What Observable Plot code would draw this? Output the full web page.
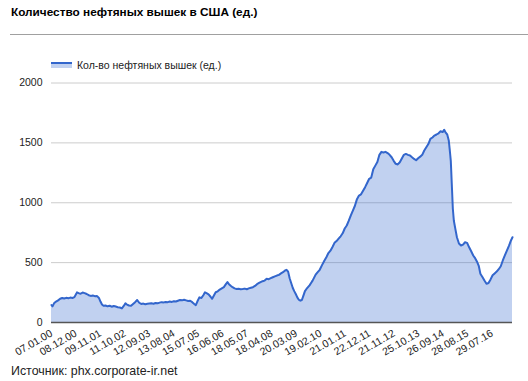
<!DOCTYPE html>
<html><head><meta charset="utf-8">
<script src="https://cdn.jsdelivr.net/npm/d3@7"></script>
<script src="https://cdn.jsdelivr.net/npm/@observablehq/plot@0.6"></script>
<style>
body{margin:0;background:#fff;font-family:Arial,"Liberation Sans",sans-serif;}
#wrap{position:relative;width:528px;height:381px;overflow:hidden;background:#fff}
#title{position:absolute;left:11px;top:5px;font-weight:bold;font-size:11.8px;color:#000;white-space:nowrap}
#rule{position:absolute;left:10px;right:0;top:34px;height:0;border-top:1px solid #a0a0a0}
#chart{position:absolute;left:0;top:40px}
#legend{position:absolute;left:51px;top:59px;font-size:10.5px;color:#222;display:flex;align-items:center;white-space:nowrap}
.sw{width:21px;height:4px;background:rgba(51,102,204,0.3);border-top:2px solid #3366cc;margin-right:5px}
#caption{position:absolute;left:11px;top:364px;font-size:12.4px;color:#222;white-space:nowrap}
</style>
</head><body>
<div id="wrap">
  <div id="title">Количество нефтяных вышек в США (ед.)</div>
  <div id="rule"></div>
  <div id="legend"><span class="sw"></span><span>Кол-во нефтяных вышек (ед.)</span></div>
  <div id="chart"></div>
  <div id="caption">Источник: phx.corporate-ir.net</div>
</div>
<script>
const dates = [
"2000-01-07","2000-01-21","2000-02-11","2000-03-10","2000-04-07","2000-05-05","2000-06-02","2000-06-30","2000-07-28","2000-08-25","2000-09-22","2000-10-20","2000-11-17","2000-12-08","2000-12-22",
"2001-01-12","2001-02-09","2001-03-09","2001-04-06","2001-05-04","2001-06-01","2001-06-29","2001-07-27","2001-08-24","2001-09-21","2001-10-19","2001-11-09","2001-11-30","2001-12-21",
"2002-01-18","2002-02-15","2002-03-15","2002-04-12","2002-05-10","2002-06-07","2002-07-05","2002-08-02","2002-08-30","2002-09-27","2002-10-18","2002-11-08","2002-12-06",
"2003-01-03","2003-01-31","2003-02-28","2003-03-28","2003-04-25","2003-05-23","2003-06-20","2003-07-18","2003-08-15","2003-09-12","2003-10-10","2003-11-07","2003-12-05",
"2004-01-02","2004-01-30","2004-02-27","2004-03-26","2004-04-23","2004-05-21","2004-06-18","2004-07-16","2004-08-13","2004-09-10","2004-10-08","2004-11-05","2004-12-03","2004-12-31",
"2005-01-28","2005-02-25","2005-03-25","2005-04-22","2005-05-20","2005-06-10","2005-07-01","2005-07-29","2005-08-26","2005-09-23","2005-10-14","2005-11-04","2005-12-02","2005-12-30",
"2006-01-20","2006-02-17","2006-03-10","2006-04-07","2006-05-05","2006-06-02","2006-06-30","2006-07-28","2006-08-18","2006-09-08","2006-10-06","2006-10-27","2006-11-24","2006-12-22",
"2007-01-19","2007-02-16","2007-03-16","2007-04-13","2007-05-11","2007-06-08","2007-07-06","2007-08-03","2007-08-31","2007-09-28","2007-10-26","2007-11-16","2007-12-14",
"2008-01-11","2008-02-08","2008-03-07","2008-04-04","2008-05-02","2008-05-30","2008-06-27","2008-07-25","2008-08-22","2008-09-19","2008-10-17","2008-11-07","2008-11-28","2008-12-19",
"2009-01-09","2009-01-30","2009-02-20","2009-03-13","2009-04-03","2009-04-24","2009-05-15","2009-06-05","2009-06-26","2009-07-17","2009-08-07","2009-08-28","2009-09-18","2009-10-09","2009-10-30","2009-11-20","2009-12-11",
"2010-01-08","2010-02-05","2010-03-05","2010-04-09","2010-05-07","2010-06-04","2010-07-02","2010-07-30","2010-08-27","2010-09-24","2010-10-22","2010-11-19","2010-12-17",
"2011-01-14","2011-02-11","2011-03-11","2011-04-08","2011-05-06","2011-06-03","2011-07-01","2011-07-29","2011-08-26","2011-09-23","2011-10-21","2011-11-18","2011-12-16",
"2012-01-13","2012-02-10","2012-03-09","2012-04-06","2012-05-04","2012-06-01","2012-06-29","2012-07-27","2012-08-24","2012-09-21","2012-10-19","2012-11-16","2012-12-14",
"2013-01-11","2013-02-08","2013-03-08","2013-04-05","2013-05-03","2013-05-31","2013-06-28","2013-07-26","2013-08-23","2013-09-20","2013-10-18","2013-11-15","2013-12-13",
"2014-01-10","2014-02-07","2014-03-07","2014-04-04","2014-05-02","2014-05-30","2014-06-27","2014-07-25","2014-08-22","2014-09-19","2014-10-10","2014-10-31","2014-11-21","2014-12-12","2014-12-26",
"2015-01-09","2015-01-23","2015-02-06","2015-02-20","2015-03-13","2015-04-03","2015-05-01","2015-05-29","2015-06-26","2015-07-24","2015-08-21","2015-09-18","2015-10-16","2015-11-13","2015-12-11",
"2016-01-08","2016-01-29","2016-02-19","2016-03-18","2016-04-15","2016-05-13","2016-06-10","2016-07-08","2016-08-05","2016-09-02","2016-09-30","2016-10-28","2016-11-25","2016-12-23",
"2017-01-20","2017-02-17","2017-03-17","2017-04-14","2017-05-05"
];
const rigs = [
145,135,160,175,185,198,205,200,206,203,208,205,212,235,252,
245,240,250,245,238,228,222,225,220,222,205,175,150,140,
142,135,140,132,138,133,128,125,118,140,160,150,142,
140,155,170,188,165,155,158,152,156,158,160,157,163,
160,166,170,168,172,170,175,172,178,175,182,188,185,190,
185,180,182,170,155,145,175,210,205,230,252,245,235,215,
198,230,253,260,275,285,295,320,337,320,305,295,285,280,
282,278,280,283,278,285,290,295,305,320,330,337,345,
350,365,362,370,378,385,392,398,410,420,434,440,425,370,
330,290,262,238,210,190,182,188,225,262,280,295,310,330,350,375,400,
420,440,475,515,545,580,600,630,665,680,700,720,745,
785,810,850,895,935,975,1030,1060,1070,1100,1130,1165,1200,
1210,1280,1310,1340,1400,1425,1420,1425,1415,1400,1380,1350,1325,
1320,1338,1370,1400,1408,1400,1395,1380,1366,1355,1372,1385,1400,
1436,1463,1490,1533,1545,1561,1570,1580,1597,1590,1609,1585,1570,1520,1440,
1350,1150,950,850,780,712,660,643,650,670,665,628,595,560,535,
503,470,407,380,350,323,330,360,395,410,425,445,470,518,
560,600,640,685,712
];
const tickDates = ["2000-01-07","2000-12-08","2001-11-09","2002-10-11","2003-09-12","2004-08-13","2005-07-15","2006-06-16","2007-05-18","2008-04-18","2009-03-20","2010-02-19","2011-01-21","2011-12-22","2012-11-21","2013-10-25","2014-09-26","2015-08-28","2016-07-29"];
const tickLabels = ["07.01.00","08.12.00","09.11.01","11.10.02","12.09.03","13.08.04","15.07.05","16.06.06","18.05.07","18.04.08","20.03.09","19.02.10","21.01.11","22.12.11","21.11.12","25.10.13","26.09.14","28.08.15","29.07.16"];
const yTicks = [0, 500, 1000, 1500, 2000];

const parse = d3.utcParse("%Y-%m-%d");
const data = dates.map((d, i) => ({date: parse(d), value: rigs[i]}));
const tickMap = new Map(tickDates.map((d, i) => [+parse(d), tickLabels[i]]));

const chart = Plot.plot({
  width: 528, height: 315,
  marginLeft: 51, marginRight: 16, marginTop: 42.5, marginBottom: 33,
  style: {fontFamily: 'Arial, "Liberation Sans", sans-serif', fontSize: "10.5px", color: "#222", background: "transparent", overflow: "visible"},
  x: {type: "utc", domain: [parse("2000-01-07"), parse("2017-05-05")]},
  y: {domain: [0, 2000]},
  marks: [
    Plot.ruleY(yTicks.filter(d => d > 0), {stroke: "#cccccc"}),
    Plot.areaY(data, {x: "date", y: "value", fill: "#3366cc", fillOpacity: 0.3, curve: "linear"}),
    Plot.lineY(data, {x: "date", y: "value", stroke: "#3366cc", strokeWidth: 2}),
    Plot.ruleY([0], {stroke: "#555", strokeWidth: 1.5}),
    Plot.axisY({ticks: yTicks, tickFormat: d => String(d), tickSize: 0, tickPadding: 9, label: null, fill: "#222"}),
    Plot.axisX({ticks: tickDates.map(parse), tickFormat: d => tickMap.get(+d), tickRotate: -30, tickSize: 0, tickPadding: 10, label: null, fill: "#222"})
  ]
});
document.getElementById("chart").appendChild(chart);
</script>
</body></html>
